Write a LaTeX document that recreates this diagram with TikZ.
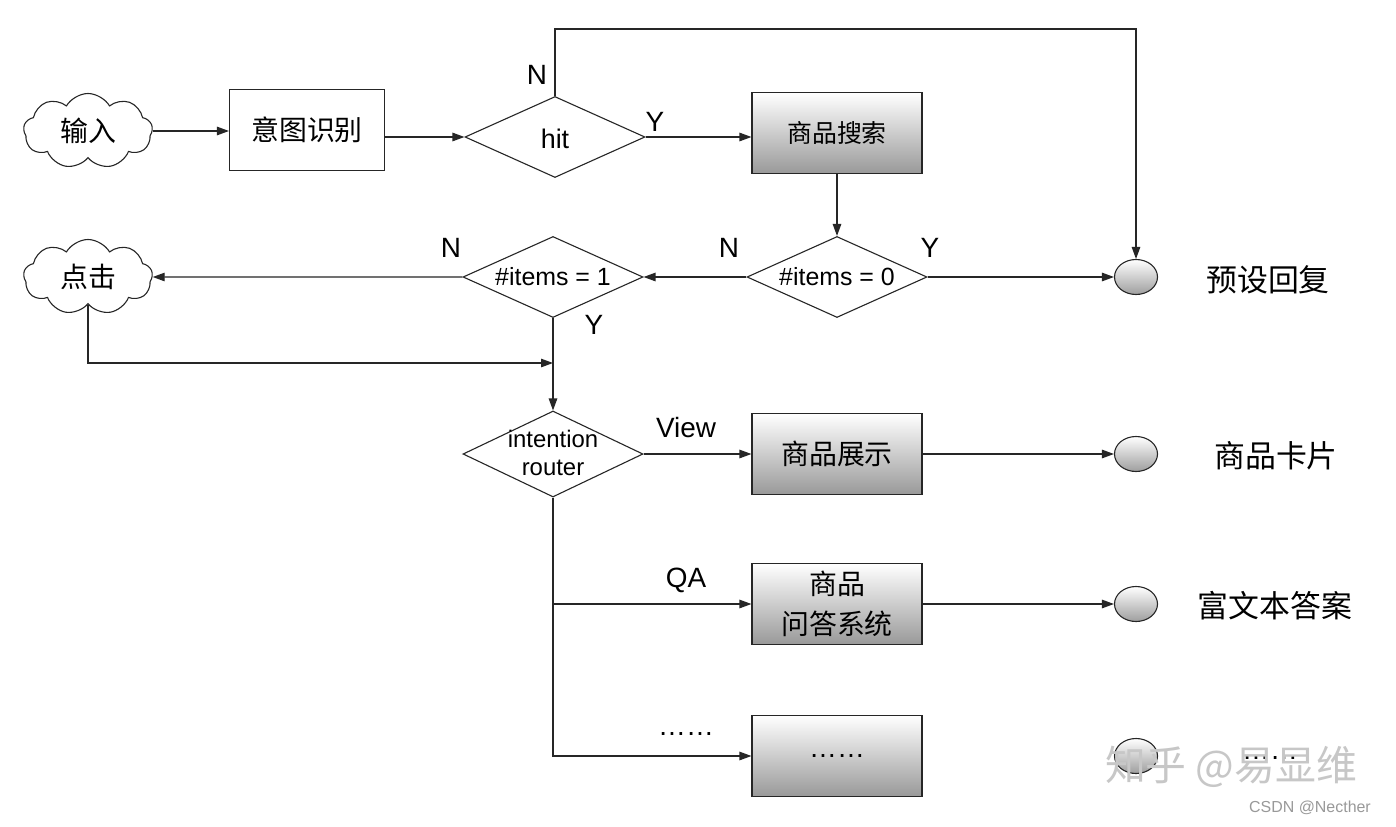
\documentclass[tikz,border=0pt]{standalone}
\usepackage{fontspec}
\setmainfont{Liberation Sans}
\newfontfamily\cjk{Noto Sans CJK SC}
\usetikzlibrary{shapes.geometric,shapes.symbols,arrows.meta}
\begin{document}
\begin{tikzpicture}[x=1bp,y=-1bp,
  line/.style={draw=black!85, line width=1.2bp},
  arr/.style={line, -{Triangle[length=12bp,width=8.5bp]}},
  cloudnode/.style={cloud, cloud puffs=9, cloud puff arc=120, aspect=1.75, draw=black!85, line width=1.1bp, minimum width=129bp, minimum height=75bp, inner sep=0pt, font=\cjk\fontsize{28}{30}\selectfont},
  plainbox/.style={draw=black!85, line width=1.1bp, minimum width=155bp, minimum height=81bp, font=\cjk\fontsize{28}{30}\selectfont},
  gradbox/.style={draw=black!85, line width=1.1bp, minimum width=170bp, minimum height=81bp, top color=white, bottom color=black!40, font=\cjk\fontsize{28}{40}\selectfont, align=center},
  decision/.style={diamond, draw=black!85, line width=1.1bp, minimum width=180bp, minimum height=81bp, inner sep=0pt},
  endpt/.style={ellipse, draw=black!85, line width=1.1bp, minimum width=43bp, minimum height=35bp, inner sep=0pt, top color=white, bottom color=black!38},
  lab/.style={font=\fontsize{28}{30}\selectfont},
  dtext/.style={font=\fontsize{25}{28}\selectfont, align=center},
  outlab/.style={font=\cjk\fontsize{31}{33}\selectfont},
]
\useasboundingbox (0,0) rectangle (1396,826);
\fill[white] (0,0) rectangle (1396,826);

% nodes
\node[cloudnode] (in) at (88,131) {输入};
\node[plainbox] (intent) at (307,130) {意图识别};
\node[decision] (hit) at (555,137) {};
\node[dtext, font=\fontsize{27}{29}\selectfont] (hitt) at (555,139) {hit};
\node[gradbox, font=\cjk\fontsize{25}{30}\selectfont] (search) at (837,133) {商品搜索};
\node[decision] (d0) at (837,277) {};
\node[dtext] (d0t) at (837,277) {\#items = 0};
\node[decision] (d1) at (553,277) {};
\node[dtext] (d1t) at (553,277) {\#items = 1};
\node[cloudnode] (click) at (88,277) {点击};
\node[decision, minimum height=86bp] (router) at (553,454) {};
\node[dtext, font=\fontsize{24}{29}\selectfont] (routert) at (553,453) {intention\\router};
\node[gradbox] (show) at (837,454) {商品展示};
\node[gradbox] (qa) at (837,604) {商品\\问答系统};
\node[gradbox, font=\fontsize{28}{30}\selectfont] (more) at (837,756) {……};
\node[endpt] (end1) at (1136,277) {};
\node[endpt] (end2) at (1136,454) {};
\node[endpt] (end3) at (1136,604) {};
\node[endpt] (end4) at (1136,756) {};

\node[outlab] (o1) at (1268,280) {预设回复};
\node[outlab] (o2) at (1276,456) {商品卡片};
\node[outlab] (o3) at (1275,606) {富文本答案};
\node[lab] (o4) at (1270,758) {……};

% edge labels
\node[lab] (lN1) at (537,75) {N};
\node[lab] (lY1) at (655,122) {Y};
\node[lab] (lN2) at (729,248) {N};
\node[lab] (lY2) at (930,248) {Y};
\node[lab] (lN3) at (451,248) {N};
\node[lab] (lY3) at (594,325) {Y};
\node[lab] (lV) at (686,428) {View};
\node[lab] (lQA) at (686,580) {QA};
\node[lab] (lM) at (686,734) {……};

% coordinates
\coordinate (ntop) at (555,29);
\coordinate (join) at (553,363);

% connectors
\draw[arr] (in.east) -- (in.east -| intent.west);
\draw[arr] (intent.east |- hit.west) -- (hit.west);
\draw[arr] (hit.north) -- (ntop) -| (end1.north);
\draw[arr] (hit.east) -- (hit.east -| search.west);
\draw[arr] (search.south) -- (d0.north);
\draw[arr] (d0.east) -- (end1.west);
\draw[arr] (d0.west) -- (d1.east);
\draw[arr] (d1.west) -- (click.east);
\draw[arr] (click.south) |- (join);
\draw[arr] (d1.south) -- (router.north);
\draw[arr] (router.east) -- (show.west);
\draw[arr] (show.east) -- (end2.west);
\draw[arr] (router.south) |- (qa.west);
\draw[arr] (router.south) |- (more.west);
\draw[arr] (qa.east) -- (end3.west);

% watermark
\node[font=\cjk\fontsize{41}{43}\selectfont, text=black!22] (wm) at (1231,767) {知乎 @易显维};
\node[font=\fontsize{16}{18}\selectfont, text=black!40] (csdn) at (1310,808) {CSDN @Necther};
\end{tikzpicture}
\end{document}
